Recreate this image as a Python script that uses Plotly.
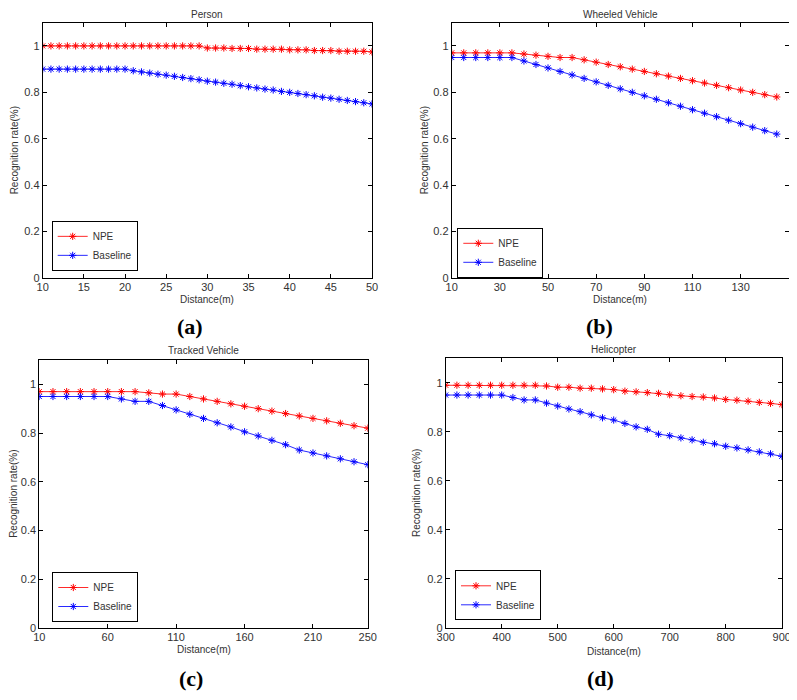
import plotly.graph_objects as go

# ---- data ----
titles = ["Person", "Wheeled Vehicle", "Tracked Vehicle", "Helicopter"]
panel_labels = ["(a)", "(b)", "(c)", "(d)"]

x_a = list(range(10, 51, 1))
npe_a = [1.0]*20 + [0.991, 0.991, 0.991, 0.989, 0.989, 0.989, 0.986, 0.986, 0.986, 0.986,
                     0.983, 0.983, 0.983, 0.980, 0.980, 0.980, 0.977, 0.977, 0.977, 0.977, 0.974]
base_a = [0.9]*11 + [0.893, 0.888, 0.883, 0.878, 0.874, 0.869, 0.864, 0.859, 0.854, 0.848,
                     0.844, 0.839, 0.835, 0.829, 0.824, 0.819, 0.814, 0.810, 0.804, 0.800,
                     0.795, 0.790, 0.785, 0.779, 0.775, 0.770, 0.765, 0.760, 0.755, 0.750]

x_b = list(range(10, 146, 5))
npe_b = [0.97]*6 + [0.965, 0.96, 0.955, 0.95, 0.95, 0.94, 0.93, 0.92, 0.91, 0.90, 0.89,
                    0.88, 0.87, 0.86, 0.85, 0.84, 0.83, 0.82, 0.81, 0.80, 0.79, 0.78]
base_b = [0.95]*6 + [0.935, 0.92, 0.905, 0.89, 0.875, 0.86, 0.845, 0.83, 0.815, 0.80, 0.785,
                     0.77, 0.755, 0.74, 0.725, 0.71, 0.695, 0.68, 0.665, 0.65, 0.635, 0.62]

x_c = list(range(10, 251, 10))
npe_c = [0.97]*8 + [0.965, 0.96, 0.96, 0.95, 0.94, 0.93, 0.92, 0.91, 0.90, 0.89, 0.88,
                    0.87, 0.86, 0.85, 0.84, 0.83, 0.82]
base_c = [0.95]*6 + [0.94, 0.93, 0.93, 0.913, 0.895, 0.877, 0.86, 0.842, 0.825, 0.805, 0.788,
                     0.77, 0.752, 0.73, 0.718, 0.706, 0.694, 0.682, 0.67]

x_d = list(range(300, 901, 20))
npe_d = [0.99]*9 + [0.987, 0.982, 0.982, 0.978, 0.978, 0.975, 0.972, 0.966, 0.963, 0.96, 0.957,
                    0.951, 0.947, 0.944, 0.942, 0.938, 0.932, 0.929, 0.925, 0.92, 0.916, 0.911]
base_d = [0.95]*6 + [0.94, 0.93, 0.93, 0.917, 0.905, 0.893, 0.882, 0.869, 0.857, 0.848, 0.834,
                     0.82, 0.81, 0.79, 0.784, 0.775, 0.767, 0.757, 0.751, 0.741, 0.734, 0.726,
                     0.718, 0.71, 0.70]

xs = [x_a, x_b, x_c, x_d]
npes = [npe_a, npe_b, npe_c, npe_d]
bases = [base_a, base_b, base_c, base_d]
x_ranges = [[10, 50], [10, 150], [10, 250], [300, 900]]
x_ticks = [list(range(10, 51, 5)), list(range(10, 131, 20)), [10, 60, 110, 160, 210, 250],
           list(range(300, 901, 100))]
y_ticks = [0, 0.2, 0.4, 0.6, 0.8, 1]
y_labels = ["0", "0.2", "0.4", "0.6", "0.8", "1"]

# ---- layout geometry (page pixels; the page body has an 8px margin) ----
OFF = 8
W, H = 797 - OFF, 700 - 2 * OFF
boxes = [(42.7, 372.0, 22.7, 278.0), (451.7, 788.8, 22.7, 278.0),
         (39.3, 367.7, 360.0, 627.7), (445.7, 781.7, 358.3, 627.7)]
legend_box = [(51.7, 230.0, 261.7), (457.3, 238.3, 267.3), (52.3, 581.7, 612.3),
              (455.0, 578.3, 612.3)]
title_y = [None, None, 350, 349]
xlab_y = [300, 300, 649, 651]
ylab_x = [14, 424, 14, 417]
panel_pos = [(190, 326), (599, 326), (191, None), (600, None)]


def px(x):
    return (x - OFF) / W


def py(y):
    return 1 - (y - OFF) / H


FONT = "Liberation Sans, Arial, sans-serif"
TXT = "#333333"

fig = go.Figure()
annotations = []
layout = {}
for i in range(4):
    sfx = "" if i == 0 else str(i + 1)
    lg = "legend" + sfx
    xa = "x" + sfx
    ya = "y" + sfx
    fig.add_trace(go.Scatter(x=xs[i], y=npes[i], name="NPE", mode="lines+markers",
                             xaxis=xa, yaxis=ya, legend=lg,
                             line=dict(width=1, color="#ff2a2a"),
                             marker=dict(symbol="asterisk-open", size=6, color="#ff0000",
                                         line=dict(width=1, color="#ff0000"))))
    fig.add_trace(go.Scatter(x=xs[i], y=bases[i], name="Baseline", mode="lines+markers",
                             xaxis=xa, yaxis=ya, legend=lg,
                             line=dict(width=1, color="#2a2aff"),
                             marker=dict(symbol="asterisk-open", size=6, color="#0000ff",
                                         line=dict(width=1, color="#0000ff"))))
    l, r, t, b = boxes[i]
    axcommon = dict(showgrid=False, zeroline=False, showline=True, linecolor="#000000",
                    linewidth=1, mirror="allticks", ticks="inside", ticklen=4,
                    tickcolor="#000000", automargin=False, ticklabeloverflow="allow",
                    tickfont=dict(family=FONT, size=11, color=TXT))
    layout["xaxis" + sfx] = dict(domain=[px(l), px(r)], anchor=ya, range=x_ranges[i],
                                 tickvals=x_ticks[i], ticklabelstandoff=-1, **axcommon)
    layout["yaxis" + sfx] = dict(domain=[py(b), py(t)], anchor=xa, range=[0, 1.1],
                                 tickvals=y_ticks, ticktext=y_labels, **axcommon)
    lx, ltop, lbot = legend_box[i]
    lcy = (ltop + lbot) / 2
    layout[lg] = dict(x=px(lx), y=py(lcy), xanchor="left", yanchor="middle",
                      bgcolor="white", bordercolor="#000000", borderwidth=1,
                      font=dict(family=FONT, size=10, color=TXT),
                      tracegroupgap=0, itemwidth=30)
    cx = (l + r) / 2
    if title_y[i] is None:
        annotations.append(dict(text=titles[i], x=px(cx), y=1.0, xref="paper",
                                yref="paper", showarrow=False, xanchor="center",
                                yanchor="top", borderpad=0,
                                font=dict(family=FONT, size=10, color=TXT)))
    else:
        annotations.append(dict(text=titles[i], x=px(cx), y=py(title_y[i]), xref="paper",
                                yref="paper", showarrow=False, xanchor="center",
                                yanchor="middle", borderpad=0,
                                font=dict(family=FONT, size=10, color=TXT)))
    annotations.append(dict(text="Distance(m)", x=px(cx), y=py(xlab_y[i]), xref="paper",
                            yref="paper", showarrow=False, xanchor="center", yanchor="middle",
                            borderpad=0, font=dict(family=FONT, size=10, color=TXT)))
    ylx = max(px(ylab_x[i]), 0.0)
    annotations.append(dict(text="Recognition rate(%)", x=ylx,
                            y=py((t + b) / 2), xref="paper", yref="paper",
                            showarrow=False, textangle=-90,
                            xanchor="left" if ylx == 0.0 else "center",
                            yanchor="middle", borderpad=0,
                            font=dict(family=FONT, size=10, color=TXT)))
    pxl, pyl = panel_pos[i]
    pfont = dict(family="Liberation Serif, Times New Roman, serif", size=22, color="#000000")
    if pyl is None:
        annotations.append(dict(text="<b>" + panel_labels[i] + "</b>", x=px(pxl), y=0.0,
                                xref="paper", yref="paper", showarrow=False,
                                xanchor="center", yanchor="bottom", borderpad=0,
                                font=pfont))
    else:
        annotations.append(dict(text="<b>" + panel_labels[i] + "</b>", x=px(pxl),
                                y=py(pyl), xref="paper", yref="paper", showarrow=False,
                                xanchor="center", yanchor="middle", borderpad=0,
                                font=pfont))

fig.update_layout(template="none", width=W, height=H, margin=dict(l=0, r=0, t=0, b=0),
                  paper_bgcolor="white", plot_bgcolor="white", showlegend=True,
                  annotations=annotations, **layout)
fig.write_html("out.html")
